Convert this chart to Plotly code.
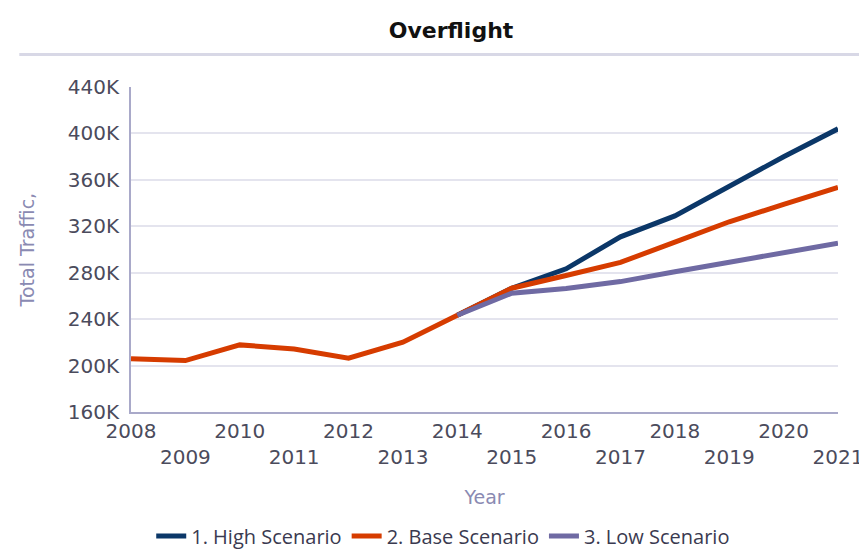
import plotly.graph_objects as go

# data (thousands of flights)
years = [2008, 2009, 2010, 2011, 2012, 2013, 2014, 2015, 2016, 2017, 2018, 2019, 2020, 2021]
year_labels = [str(y) if y % 2 == 0 else "<br>" + str(y) for y in years]

high = [None, None, None, None, None, None, 243.5, 266.8, 283.5, 311, 329, 355, 380, 404]
base = [206, 204.5, 218, 214.5, 206.6, 220.4, 243.5, 266.8, 277.7, 289, 306.5, 324, 339, 353.5]
low = [None, None, None, None, None, None, 243.5, 262.5, 266.5, 272.5, 281, 289, 297.5, 305.5]

y_ticks = [160, 200, 240, 280, 320, 360, 400, 440]
y_labels = [str(v) + "K" for v in y_ticks]

names = ["1. High Scenario", "2. Base Scenario", "3. Low Scenario"]
colors = ["#0b3768", "#d63c00", "#6f6aa3"]

fig = go.Figure()
for vals, name, col in zip([high, base, low], names, colors):
    fig.add_trace(go.Scatter(x=years, y=vals, name=name, mode="lines",
                             line=dict(color=col, width=5)))

tick_font = dict(family="DejaVu Sans", size=20, color="#4b4b5c")
title_font = dict(family="DejaVu Sans", size=19, color="#8a8ab2")

fig.update_layout(
    width=867, height=552,
    margin=dict(l=123, r=22, t=79, b=145),
    paper_bgcolor="white", plot_bgcolor="white",
    title=dict(text="<b>Overflight</b>", x=0.511, xref="container", y=0.96, yref="container",
               xanchor="center", yanchor="middle",
               font=dict(family="DejaVu Sans", size=22, color="#111111")),
    legend=dict(orientation="h", x=0.502, xref="container", xanchor="center",
                y=0.008, yref="container", yanchor="bottom",
                font=dict(family="Open Sans", size=20, color="#3a3a50"),
                itemwidth=30, tracegroupgap=0),
    showlegend=True,
    shapes=[dict(type="line", xref="paper", yref="paper", x0=-0.158, x1=1.03, y0=1.10, y1=1.10,
                 line=dict(color="#d8d8e6", width=3))],
)

fig.update_xaxes(range=[2008, 2021], tickvals=years, ticktext=year_labels,
                 showgrid=False, showline=True, linecolor="#a9a9c9", linewidth=2,
                 ticks="", tickfont=tick_font, ticklabeloverflow="allow",
                 title=dict(text="Year", font=title_font, standoff=22), zeroline=False)
fig.update_yaxes(range=[160, 440], tickvals=y_ticks, ticktext=y_labels,
                 showgrid=True, gridcolor="#e4e4ee", gridwidth=2,
                 showline=True, linecolor="#a9a9c9", linewidth=2,
                 ticks="", tickfont=tick_font, zeroline=False, ticklabelstandoff=6,
                 title=dict(text="Total Traffic,", font=title_font, standoff=28))

fig.write_html("out.html")
